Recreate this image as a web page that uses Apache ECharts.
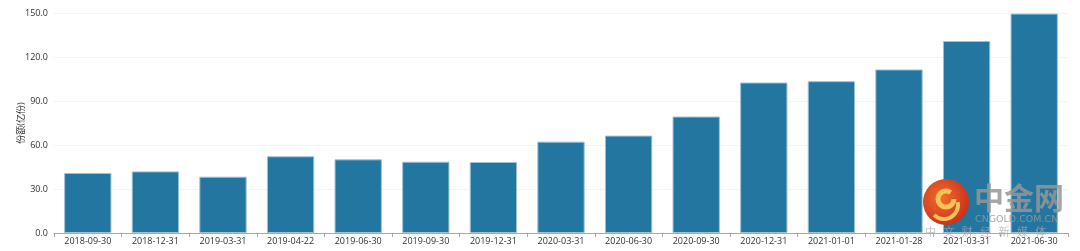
<!DOCTYPE html>
<html>
<head>
<meta charset="utf-8">
<script src="https://cdn.jsdelivr.net/npm/echarts@6/dist/echarts.min.js"></script>
<style>html,body{margin:0;padding:0;background:#fff;}#c{width:1080px;height:251px;}</style>
</head>
<body>
<div id="c"></div>
<script>
const categories = ['2018-09-30','2018-12-31','2019-03-31','2019-04-22','2019-06-30','2019-09-30','2019-12-31','2020-03-31','2020-06-30','2020-09-30','2020-12-31','2021-01-01','2021-01-28','2021-03-31','2021-06-30'];
const shares = [40.9, 42.0, 38.4, 52.3, 50.2, 48.6, 48.4, 62.3, 66.4, 79.4, 102.6, 103.5, 111.5, 130.9, 149.6];
const yAxisName = '份额(亿份)';

const chart = echarts.init(document.getElementById('c'), null, {renderer: 'canvas'});
chart.setOption({
  animation: false,
  textStyle: {fontFamily: '"Open Sans", "Noto Sans CJK SC", sans-serif'},
  grid: {left: 54, right: 12, top: 13, bottom: 18, containLabel: false},
  xAxis: {
    type: 'category',
    data: categories,
    axisLine: {lineStyle: {color: '#aaa'}},
    axisTick: {show: true, alignWithLabel: false, length: 4, lineStyle: {color: '#aaa'}},
    axisLabel: {color: '#333', fontSize: 9, margin: 4, interval: 0}
  },
  yAxis: {
    type: 'value',
    min: 0, max: 150, interval: 30,
    name: yAxisName,
    nameLocation: 'middle',
    nameGap: 28,
    nameMoveOverlap: false,
    nameTextStyle: {color: '#333', fontSize: 9},
    axisLine: {show: false},
    axisTick: {show: false},
    axisLabel: {color: '#333', fontSize: 9, margin: 6, formatter: v => v.toFixed(1)},
    splitLine: {lineStyle: {color: '#f3f3f3'}}
  },
  series: [{
    type: 'bar',
    data: shares,
    barWidth: '70%',
    itemStyle: {color: '#22769f', borderColor: '#9cc2d6', borderWidth: 1}
  }],
  graphic: [
    {type: 'circle', shape: {cx: 946, cy: 202, r: 23}, style: {fill: new echarts.graphic.RadialGradient(0.4, 0.4, 0.7, [{offset: 0, color: '#f0702a'}, {offset: 1, color: '#c8281c'}])}, z: 100},
    {type: 'arc', shape: {cx: 946, cy: 199, r: 8, startAngle: 0, endAngle: Math.PI * 1.7}, style: {stroke: '#f6c35a', lineWidth: 5, fill: null}, z: 101},
    {type: 'arc', shape: {cx: 944, cy: 205, r: 14, startAngle: -0.2, endAngle: Math.PI * 0.75}, style: {stroke: '#f6c35a', lineWidth: 4, fill: null}, z: 101},
    {type: 'text', left: 974, top: 183, style: {text: '中金网', fill: 'rgba(150,150,150,0.85)', font: 'bold 30px "Noto Sans CJK SC"'}, z: 100},
    {type: 'text', left: 975, top: 215, style: {text: 'CNGOLD.COM.CN', fill: 'rgba(150,150,150,0.85)', font: '9.5px "DejaVu Sans"'}, z: 100},
    {type: 'text', left: 925, top: 226, style: {text: '中   文   财   经   新   媒   体', fill: 'rgba(170,170,170,0.7)', font: '11px "Noto Sans CJK SC"'}, z: 100}
  ]
});
</script>
</body>
</html>
